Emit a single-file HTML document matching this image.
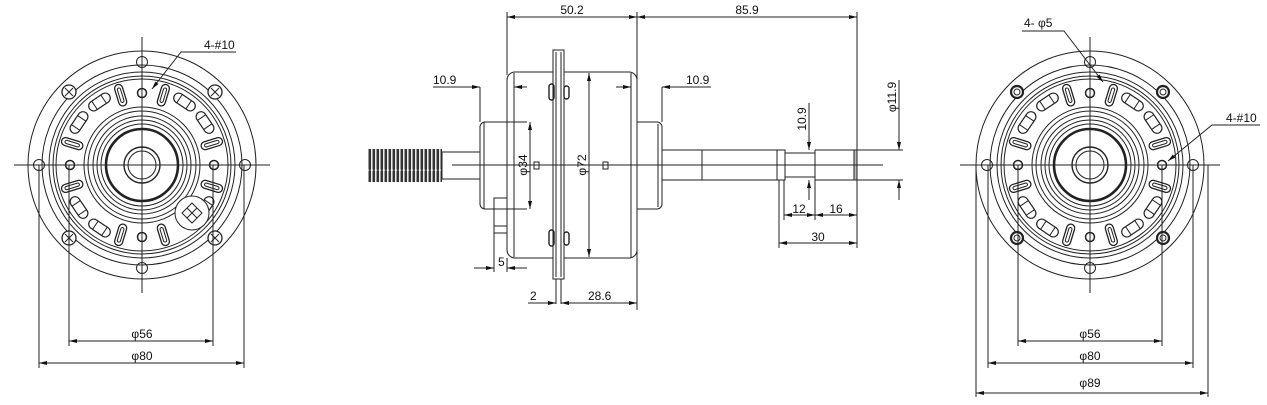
<!DOCTYPE html>
<html><head><meta charset="utf-8"><style>
html,body{margin:0;padding:0;background:#fff;}
svg{display:block;}
text{font-family:"Liberation Sans",sans-serif;font-size:12px;fill:#111;}
</style></head><body>
<svg width="1267" height="405" viewBox="0 0 1267 405" xmlns="http://www.w3.org/2000/svg">
<defs>
<marker id="a" viewBox="0 0 8 4" refX="8" refY="2" markerWidth="8" markerHeight="4" orient="auto-start-reverse" markerUnits="userSpaceOnUse"><path d="M0,0 L8,2 L0,4z" fill="#111"/></marker>
<pattern id="thr" x="368" width="4" height="34" patternUnits="userSpaceOnUse"><rect x="0.5" y="0" width="2.6" height="34" rx="1.3" fill="#333"/></pattern>
<g id="slot"><rect x="-4" y="-11" width="8" height="22" rx="4" fill="#fff" stroke="#222" stroke-width="1.3"/><rect x="-1.6" y="-7.5" width="3.2" height="15" rx="1.6" fill="none" stroke="#222"/></g>
<g id="wind"><rect x="-12" y="-5" width="24" height="10" rx="5" fill="#fff" stroke="#222" stroke-width="1.2"/><line x1="-6" y1="-5" x2="-6" y2="5" stroke="#222"/><line x1="5" y1="-5" x2="5" y2="5" stroke="#222"/></g>
<g id="core" fill="none" stroke="#222">
<circle r="100"/><circle r="93"/><circle r="89"/><circle r="86"/>
<circle r="58"/><circle r="54"/><circle r="49"/><circle r="45"/><circle r="41"/>
<circle r="36" stroke-width="2.6"/><circle r="18" stroke-width="1.4"/><circle r="14"/>
<g><use href="#slot" transform="rotate(17) translate(0,-73)"/><use href="#slot" transform="rotate(-17) translate(0,-73)"/>
<use href="#slot" transform="rotate(73) translate(0,-73)"/><use href="#slot" transform="rotate(107) translate(0,-73)"/>
<use href="#slot" transform="rotate(163) translate(0,-73)"/><use href="#slot" transform="rotate(197) translate(0,-73)"/>
<use href="#slot" transform="rotate(253) translate(0,-73)"/><use href="#slot" transform="rotate(287) translate(0,-73)"/></g>
<use href="#wind" transform="rotate(34) translate(0,-76)"/><use href="#wind" transform="rotate(56) translate(0,-76)"/>
<use href="#wind" transform="rotate(-34) translate(0,-76)"/><use href="#wind" transform="rotate(-56) translate(0,-76)"/>
<use href="#wind" transform="rotate(214) translate(0,-76)"/><use href="#wind" transform="rotate(236) translate(0,-76)"/>
<circle cx="0" cy="-72" r="4.5" stroke-width="1.5"/><circle cx="0" cy="72" r="4.5" stroke-width="1.5"/>
<circle cx="-72" cy="0" r="4.5" stroke-width="1.5"/><circle cx="72" cy="0" r="4.5" stroke-width="1.5"/>
<circle cx="0" cy="-103" r="5.5"/><circle cx="0" cy="103" r="5.5"/><circle cx="-103" cy="0" r="5.5"/><circle cx="103" cy="0" r="5.5"/>
</g>
</defs>

<!-- LEFT VIEW -->
<g transform="translate(142,165)">
<circle r="114" fill="none" stroke="#222"/>
<use href="#core"/>
<use href="#wind" transform="rotate(124) translate(0,-76)"/>
<circle cx="50" cy="48" r="17" fill="#fff" stroke="#222"/>
<path d="M50,38 L60,48 L50,58 L40,48z M45,43 L55,53 M55,43 L45,53" fill="none" stroke="#222"/>
<g fill="#fff" stroke="#222" stroke-width="1.3">
<circle cx="-73" cy="-73" r="7"/><circle cx="73" cy="-73" r="7"/><circle cx="-73" cy="73" r="7"/><circle cx="73" cy="73" r="7"/></g>
<path d="M-77,-77l8,8M-77,-69l8,-8M69,-77l8,8M69,-69l8,-8M-77,69l8,8M-77,77l8,-8M69,69l8,8M69,77l8,-8" stroke="#222"/>
<line x1="-128" y1="0" x2="128" y2="0" stroke="#222"/><line x1="0" y1="-128" x2="0" y2="128" stroke="#222"/>
</g>
<path d="M39,165V368M244,165V368M69,165V346M213,165V346" stroke="#222"/>
<line x1="69" y1="341" x2="213" y2="341" stroke="#222" marker-start="url(#a)" marker-end="url(#a)"/>
<line x1="39" y1="363" x2="244" y2="363" stroke="#222" marker-start="url(#a)" marker-end="url(#a)"/>
<text x="142" y="338" text-anchor="middle">φ56</text><text x="142" y="360" text-anchor="middle">φ80</text>
<path d="M236,52H181L152,89" fill="none" stroke="#222" marker-end="url(#a)"/>
<text x="204" y="49">4-#10</text>

<!-- MIDDLE VIEW -->
<g stroke="#222" fill="none">
<rect x="368" y="149" width="74" height="33" fill="url(#thr)" stroke="none"/>
<rect x="442" y="152" width="38" height="27"/>
<rect x="480" y="122" width="32" height="87" rx="5"/><line x1="484" y1="122" x2="484" y2="209"/>
<rect x="632" y="122" width="30" height="87" rx="5"/><line x1="658" y1="124" x2="658" y2="207"/>
<rect x="507" y="72" width="130" height="186" rx="8" fill="#fff"/>
<line x1="514" y1="73" x2="514" y2="257"/><line x1="631" y1="73" x2="631" y2="257"/>
<rect x="494" y="198" width="13" height="35"/><line x1="494" y1="226" x2="507" y2="226"/>
<rect x="553" y="50" width="11" height="229" fill="#fff"/><line x1="556" y1="52" x2="556" y2="277"/><line x1="561" y1="52" x2="561" y2="277"/>
<path d="M556,279V304M561,279V304"/>
<rect x="549" y="84" width="5" height="16" rx="2.5" stroke-width="1.4"/><rect x="564" y="86" width="5" height="13" rx="2.5" stroke-width="1.4"/>
<rect x="549" y="230" width="5" height="16" rx="2.5" stroke-width="1.4"/><rect x="564" y="232" width="5" height="13" rx="2.5" stroke-width="1.4"/>
<path d="M662,150H777M662,180H777M702,150V180"/>
<rect x="777" y="150" width="8" height="30"/><rect x="785" y="153" width="30" height="24"/>
<path d="M815,150H854M815,180H854M815,150V180"/>
<rect x="854" y="150" width="3" height="30" fill="#bbb"/>
<path d="M857,150H903M857,180H903"/>
<rect x="534" y="162" width="5" height="7"/><rect x="603" y="162" width="5" height="7"/>
<line x1="452" y1="165" x2="883" y2="165"/>
<path d="M507,12V75M637,12V310M857,12V150M480,87V122M662,87V122M494,233V272M507,258V272M779,180V248M784,180V220M815,180V220M857,180V248"/>
<path d="M484,122H527M484,209H527"/>
</g>
<g stroke="#222">
<line x1="507" y1="17" x2="637" y2="17" marker-start="url(#a)" marker-end="url(#a)"/>
<line x1="637" y1="17" x2="857" y2="17" marker-start="url(#a)" marker-end="url(#a)"/>
<path d="M433,87H480M514,87H527" fill="none"/><line x1="470" y1="87" x2="480" y2="87" marker-end="url(#a)"/><line x1="524" y1="87" x2="514" y2="87" marker-end="url(#a)"/>
<path d="M616,87H631M662,87H711" fill="none"/><line x1="620" y1="87" x2="631" y2="87" marker-end="url(#a)"/><line x1="672" y1="87" x2="662" y2="87" marker-end="url(#a)"/>
<line x1="530" y1="122" x2="530" y2="209" marker-start="url(#a)" marker-end="url(#a)"/>
<line x1="589" y1="73" x2="589" y2="257" marker-start="url(#a)" marker-end="url(#a)"/>
<line x1="474" y1="268" x2="494" y2="268" marker-end="url(#a)"/><line x1="527" y1="268" x2="507" y2="268" marker-end="url(#a)"/>
<line x1="528" y1="303" x2="556" y2="303" marker-end="url(#a)"/>
<line x1="561" y1="303" x2="637" y2="303" marker-start="url(#a)" marker-end="url(#a)"/>
<line x1="809" y1="103" x2="809" y2="150" marker-end="url(#a)"/><line x1="809" y1="200" x2="809" y2="180" marker-end="url(#a)"/>
<line x1="899" y1="80" x2="899" y2="150" marker-end="url(#a)"/><line x1="899" y1="200" x2="899" y2="180" marker-end="url(#a)"/>
<line x1="784" y1="215" x2="815" y2="215" marker-start="url(#a)" marker-end="url(#a)"/>
<line x1="815" y1="215" x2="857" y2="215" marker-start="url(#a)" marker-end="url(#a)"/>
<line x1="779" y1="243" x2="857" y2="243" marker-start="url(#a)" marker-end="url(#a)"/>
</g>
<text x="572" y="14" text-anchor="middle">50.2</text>
<text x="747" y="14" text-anchor="middle">85.9</text>
<text x="433" y="84">10.9</text>
<text x="686" y="84">10.9</text>
<text x="498" y="266">5</text>
<text x="530" y="300">2</text>
<text x="588" y="300">28.6</text>
<text x="799" y="213" text-anchor="middle">12</text>
<text x="836" y="213" text-anchor="middle">16</text>
<text x="818" y="241" text-anchor="middle">30</text>
<text transform="translate(527,165) rotate(-90)" text-anchor="middle">φ34</text>
<text transform="translate(586,165) rotate(-90)" text-anchor="middle">φ72</text>
<text transform="translate(806,119) rotate(-90)" text-anchor="middle">10.9</text>
<text transform="translate(896,97) rotate(-90)" text-anchor="middle">φ11.9</text>

<!-- RIGHT VIEW -->
<g transform="translate(1090,165)">
<circle r="114" fill="none" stroke="#222"/>
<use href="#core"/>
<use href="#wind" transform="rotate(124) translate(0,-76)"/><use href="#wind" transform="rotate(146) translate(0,-76)"/>
<g fill="#fff" stroke="#222" stroke-width="2.2">
<circle cx="-73" cy="-73" r="6"/><circle cx="73" cy="-73" r="6"/><circle cx="-73" cy="73" r="6"/><circle cx="73" cy="73" r="6"/></g>
<g fill="none" stroke="#222"><circle cx="-73" cy="-73" r="3"/><circle cx="73" cy="-73" r="3"/><circle cx="-73" cy="73" r="3"/><circle cx="73" cy="73" r="3"/></g>
<line x1="-130" y1="0" x2="130" y2="0" stroke="#222"/><line x1="0" y1="-128" x2="0" y2="128" stroke="#222"/>
</g>
<path d="M976,165V397M1208,165V397M988,165V368M1193,165V368M1018,165V346M1162,165V346" stroke="#222"/>
<line x1="1018" y1="341" x2="1162" y2="341" stroke="#222" marker-start="url(#a)" marker-end="url(#a)"/>
<line x1="988" y1="363" x2="1193" y2="363" stroke="#222" marker-start="url(#a)" marker-end="url(#a)"/>
<line x1="976" y1="393" x2="1208" y2="393" stroke="#222" marker-start="url(#a)" marker-end="url(#a)"/>
<text x="1090" y="338" text-anchor="middle">φ56</text><text x="1090" y="360" text-anchor="middle">φ80</text>
<text x="1090" y="387" text-anchor="middle">φ89</text>
<path d="M1022,31H1064L1103,82" fill="none" stroke="#222" marker-end="url(#a)"/>
<text x="1024" y="27">4- φ5</text>
<path d="M1260,125H1212L1168,161" fill="none" stroke="#222" marker-end="url(#a)"/>
<text x="1226" y="122">4-#10</text>
</svg>
</body></html>
